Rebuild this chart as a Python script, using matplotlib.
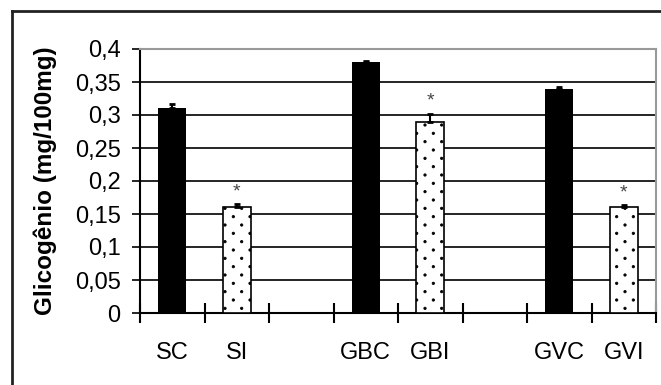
import numpy as np
import matplotlib.pyplot as plt
import matplotlib.hatch as mhatch
from matplotlib.path import Path
from matplotlib.lines import Line2D

plt.rcParams['font.family'] = ['Liberation Sans', 'DejaVu Sans']
plt.rcParams['hatch.linewidth'] = 0.6


class SparseDots(mhatch.SmallFilledCircles):
    """'.' hatch with rows twice as close, like the Excel dotted fill."""
    size = 0.07

    def __init__(self, hatch, density):
        self.num_rows = hatch.count('.') * density
        circle = Path.unit_circle()
        self.shape_vertices = circle.vertices
        self.shape_codes = circle.codes
        n = self.num_rows
        self.num_shapes = (n + 1) ** 2 + n ** 2 if n else 0
        self.num_vertices = self.num_shapes * len(self.shape_vertices)

    def set_vertices_and_codes(self, vertices, codes):
        n = self.num_rows
        step = 1.0 / n
        dot = self.shape_vertices * step * self.size
        parts = []
        for row in range(2 * n + 1):
            if row % 2 == 0:
                cols = np.linspace(0, 1, n + 1)
            else:
                cols = np.linspace(step / 2, 1 - step / 2, n)
            for c in cols:
                parts.append(dot + [c, row * step / 2])
        vertices[:] = np.concatenate(parts)
        codes[:] = np.tile(self.shape_codes, len(parts))


mhatch._hatch_types = [SparseDots if t is mhatch.SmallFilledCircles else t
                       for t in mhatch._hatch_types]

# data
groups = ['S', 'GB', 'GV']
categories = ['SC', 'SI', 'GBC', 'GBI', 'GVC', 'GVI']
values = [0.31, 0.16, 0.38, 0.29, 0.34, 0.16]
errors = [0.007, 0.005, 0.002, 0.012, 0.003, 0.003]
significant = [False, True, False, True, False, True]
yticks = [0, 0.05, 0.1, 0.15, 0.2, 0.25, 0.3, 0.35, 0.4]

# two bars per group, one empty slot between groups
pos = np.array([g * 3 + k for g in range(len(groups)) for k in range(2)])
is_ctrl = np.array([k == 0 for g in range(len(groups)) for k in range(2)])
vals = np.array(values)
errs = np.array(errors)

fig = plt.figure(figsize=(6.61, 3.85), dpi=100)
ax = fig.add_axes([140 / 661, 1 - 313 / 385, 516 / 661, 264 / 385])

for y in yticks[1:-1]:
    ax.axhline(y, color='black', lw=1.2, zorder=1)

w = 0.43
ax.bar(pos[is_ctrl], vals[is_ctrl], width=w, color='black', zorder=3)
ax.bar(pos[~is_ctrl], vals[~is_ctrl], width=w, color='white',
       edgecolor='black', hatch='.', lw=1.2, zorder=3)
ax.errorbar(pos, vals, yerr=[np.zeros_like(errs), errs], fmt='none',
            ecolor='black', elinewidth=1.5, capsize=2, capthick=2, zorder=4)

for x, v, e, s in zip(pos, vals, errs, significant):
    if s:
        ax.text(x, v + e + 0.006, '*', ha='center', va='bottom',
                fontsize=14, color='#444444')

ax.set_xlim(-0.5, 7.5)
ax.set_ylim(0, 0.4)
ax.set_yticks(yticks)
ax.set_yticklabels([('%g' % t).replace('.', ',') for t in yticks], fontsize=17)
ax.tick_params(axis='y', direction='out', length=6, width=1.2, pad=8)

ax.set_xticks(pos)
ax.set_xticklabels(categories, fontsize=17)
ax.set_xticks(np.arange(-0.5, 8, 1), minor=True)
ax.tick_params(axis='x', which='major', length=0, pad=21)
ax.tick_params(axis='x', which='minor', direction='inout', length=14, width=1.5)

ax.spines['left'].set_linewidth(1.5)
ax.spines['bottom'].set_linewidth(1.5)
ax.spines['top'].set_color('#999999')
ax.spines['right'].set_color('#999999')
ax.spines['top'].set_linewidth(1.5)
ax.spines['right'].set_linewidth(1.5)

ax.set_ylabel('Glicogênio (mg/100mg)', fontsize=17.5, fontweight='bold')
ax.yaxis.set_label_coords(-0.16, 0.5)

# outer chart frame
fig.add_artist(Line2D([12 / 661, 12 / 661], [0, 1 - 11 / 385], color='#222222', lw=2))
fig.add_artist(Line2D([12 / 661, 1], [1 - 11 / 385, 1 - 11 / 385], color='#222222', lw=2))

fig.savefig('out.png', dpi=100)
